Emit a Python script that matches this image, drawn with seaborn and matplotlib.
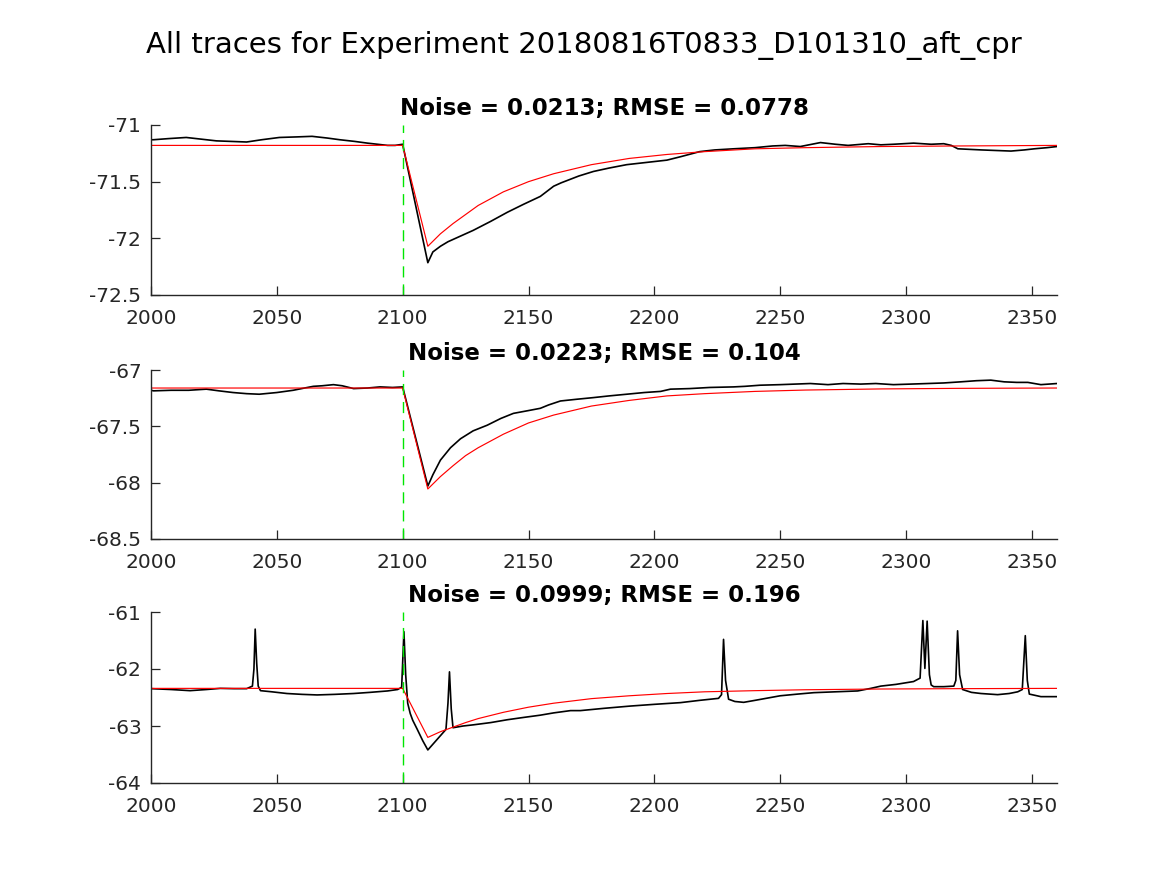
import matplotlib
matplotlib.use("Agg")
import matplotlib.pyplot as plt
import seaborn as sns
import pandas as pd

# ---------------- data ----------------
main_title = "All traces for Experiment 20180816T0833_D101310_aft_cpr"
panel_titles = ["Noise = 0.0213; RMSE = 0.0778",
                "Noise = 0.0223; RMSE = 0.104",
                "Noise = 0.0999; RMSE = 0.196"]
stim_time = 2100
x_limits = [2000, 2360]
x_ticks = [2000, 2050, 2100, 2150, 2200, 2250, 2300, 2350]
y_limits = [[-72.5, -71.0], [-68.5, -67.0], [-64.0, -61.0]]
y_ticks = [[-72.5, -72.0, -71.5, -71.0],
           [-68.5, -68.0, -67.5, -67.0],
           [-64, -63, -62, -61]]
y_ticklabels = [["-72.5", "-72", "-71.5", "-71"],
                ["-68.5", "-68", "-67.5", "-67"],
                ["-64", "-63", "-62", "-61"]]

# panel 1 trace (black)
trace1_t = [2000, 2001, 2007, 2014, 2020, 2026, 2032, 2038, 2044, 2051, 2058, 2064,
            2070, 2075, 2081, 2086, 2090, 2094, 2097, 2100, 2110, 2112, 2115, 2118,
            2123, 2128, 2135, 2141.6, 2148, 2154.7, 2160, 2163, 2170, 2175.8, 2182,
            2189, 2197, 2205, 2210.4, 2218, 2224, 2231.5, 2240, 2247, 2252, 2258,
            2266, 2272, 2277, 2285, 2290, 2295, 2303, 2310, 2315, 2318, 2320.6, 2330,
            2341.7, 2347, 2351, 2356, 2360]
trace1_v = [-71.13, -71.13, -71.12, -71.11, -71.125, -71.14, -71.145, -71.15, -71.13,
            -71.11, -71.105, -71.10, -71.115, -71.13, -71.145, -71.16, -71.17, -71.18,
            -71.18, -71.17, -72.215, -72.12, -72.07, -72.03, -71.98, -71.93, -71.85,
            -71.77, -71.70, -71.63, -71.54, -71.51, -71.45, -71.41, -71.38, -71.35,
            -71.33, -71.31, -71.28, -71.235, -71.22, -71.21, -71.20, -71.185, -71.18,
            -71.19, -71.155, -71.17, -71.18, -71.165, -71.175, -71.17, -71.16, -71.17,
            -71.165, -71.18, -71.21, -71.22, -71.23, -71.22, -71.21, -71.20, -71.19]
# panel 1 fit (red)
fit1_t = [2000, 2100, 2110, 2115, 2120, 2125, 2130, 2140, 2150, 2160, 2175, 2190,
          2205, 2220, 2240, 2260, 2290, 2320, 2360]
fit1_v = [-71.18, -71.18, -72.07, -71.96, -71.87, -71.79, -71.71, -71.59, -71.50,
          -71.43, -71.35, -71.295, -71.26, -71.235, -71.21, -71.20, -71.19, -71.185,
          -71.18]

# panel 2 trace (black)
trace2_t = [2000, 2001, 2008, 2015, 2022, 2027, 2032.6, 2038, 2043, 2050, 2056.5,
            2061, 2064.5, 2068, 2072.5, 2076, 2080.5, 2086, 2091, 2096, 2100, 2110,
            2112, 2115, 2119, 2123, 2128, 2133.6, 2139, 2144, 2150, 2154.7, 2158,
            2162.7, 2169, 2175.8, 2182, 2189, 2196, 2202.5, 2206.4, 2214, 2222,
            2231.5, 2236, 2242, 2250, 2256, 2262, 2269, 2275, 2282, 2288, 2295,
            2302, 2308.6, 2315, 2321.8, 2328, 2333.7, 2339, 2344, 2348.4, 2353.6, 2360]
trace2_v = [-67.18, -67.185, -67.18, -67.18, -67.17, -67.185, -67.20, -67.21, -67.215,
            -67.20, -67.18, -67.16, -67.145, -67.14, -67.13, -67.14, -67.165, -67.16,
            -67.15, -67.155, -67.15, -68.03, -67.93, -67.80, -67.69, -67.61, -67.54,
            -67.49, -67.43, -67.385, -67.36, -67.34, -67.31, -67.275, -67.26, -67.245,
            -67.23, -67.215, -67.20, -67.19, -67.17, -67.165, -67.155, -67.15, -67.145,
            -67.135, -67.13, -67.125, -67.12, -67.13, -67.12, -67.125, -67.12, -67.13,
            -67.125, -67.12, -67.115, -67.105, -67.095, -67.09, -67.105, -67.11,
            -67.11, -67.13, -67.12]
# panel 2 fit (red)
fit2_t = [2000, 2100, 2110, 2115, 2120, 2125, 2130, 2140, 2150, 2160, 2175, 2190,
          2205, 2220, 2240, 2260, 2290, 2320, 2360]
fit2_v = [-67.16, -67.16, -68.056, -67.946, -67.85, -67.76, -67.69, -67.57, -67.47,
          -67.40, -67.32, -67.27, -67.23, -67.21, -67.19, -67.178, -67.168, -67.163,
          -67.16]

# panel 3 trace (black, with spikes)
trace3_t = [2000, 2008, 2015.5, 2022, 2027.5, 2033, 2038, 2040.3, 2040.9, 2041.4,
            2042.0, 2042.6, 2043.5, 2048, 2054, 2060, 2066, 2073, 2080.5, 2087, 2094,
            2098, 2099.6, 2100.5, 2101.2, 2102, 2103, 2104, 2105.7, 2108, 2110, 2112,
            2115, 2117.2, 2118.0, 2118.6, 2119.3, 2120, 2124, 2128, 2135, 2141.6, 2148,
            2154.7, 2160, 2166.7, 2170.6, 2180, 2190.5, 2200, 2210.4, 2218, 2225.5,
            2226.7, 2227.5, 2228.3, 2229.5, 2232, 2235.5, 2240, 2245, 2250, 2257,
            2263.4, 2272, 2280.8, 2286, 2290, 2296, 2303, 2305.6, 2306.7, 2307.5,
            2308.4, 2309.3, 2310, 2311, 2315, 2319, 2319.8, 2320.5, 2321.3, 2322.5,
            2326, 2329.8, 2336.4, 2341, 2344.4, 2346.2, 2347.4, 2348.2, 2349, 2353.6,
            2360]
trace3_v = [-62.345, -62.36, -62.38, -62.36, -62.34, -62.345, -62.345, -62.30, -62.0,
            -61.30, -61.9, -62.30, -62.38, -62.40, -62.43, -62.445, -62.455, -62.445,
            -62.43, -62.41, -62.385, -62.36, -62.32, -61.345, -62.1, -62.60, -62.78,
            -62.90, -63.05, -63.26, -63.42, -63.32, -63.17, -63.06, -62.6, -62.05,
            -62.7, -63.03, -63.00, -62.98, -62.94, -62.89, -62.85, -62.81, -62.77,
            -62.73, -62.73, -62.69, -62.65, -62.62, -62.59, -62.55, -62.515, -62.45,
            -61.48, -62.2, -62.53, -62.57, -62.585, -62.55, -62.51, -62.47, -62.44,
            -62.415, -62.40, -62.385, -62.34, -62.30, -62.27, -62.22, -62.16, -61.15,
            -61.99, -61.16, -62.1, -62.28, -62.31, -62.31, -62.30, -62.2, -61.33,
            -62.1, -62.36, -62.41, -62.43, -62.45, -62.43, -62.40, -62.36, -61.415,
            -62.2, -62.44, -62.485, -62.485]
# panel 3 fit (red)
fit3_t = [2000, 2100, 2110, 2115, 2120, 2125, 2130, 2140, 2150, 2160, 2175, 2190,
          2205, 2220, 2240, 2260, 2290, 2320, 2360]
fit3_v = [-62.34, -62.34, -63.20, -63.10, -63.02, -62.94, -62.87, -62.76, -62.67,
          -62.60, -62.52, -62.47, -62.43, -62.40, -62.38, -62.364, -62.351, -62.345,
          -62.34]

traces = [(trace1_t, trace1_v), (trace2_t, trace2_v), (trace3_t, trace3_v)]
fits = [(fit1_t, fit1_v), (fit2_t, fit2_v), (fit3_t, fit3_v)]

# ---------------- styling ----------------
sns.set_style("ticks")
plt.rcParams["font.family"] = ["DejaVu Sans"]
plt.rcParams["axes.unicode_minus"] = False

W, H = 1167, 875
fig = plt.figure(figsize=(W / 100, H / 100), dpi=100)
fig.patch.set_facecolor("white")

ax_left, ax_right = 151, 1057
ax_rows = [(125, 295), (370, 539), (612, 783)]
axis_col = "#262626"

for i, (top, bot) in enumerate(ax_rows):
    ax = fig.add_axes([ax_left / W, 1 - bot / H, (ax_right - ax_left) / W, (bot - top) / H])
    ax.set_facecolor("white")
    tt, tv = traces[i]
    ft, fv = fits[i]
    df_tr = pd.DataFrame({"t": tt, "v": tv})
    df_fit = pd.DataFrame({"t": ft, "v": fv})
    sns.lineplot(data=df_tr, x="t", y="v", ax=ax, color="black", linewidth=1.2,
                 estimator=None, sort=False)
    sns.lineplot(data=df_fit, x="t", y="v", ax=ax, color="#ff0000", linewidth=0.85,
                 estimator=None, sort=False)
    ax.axvline(stim_time, color="#00e600", linewidth=1.0, linestyle=(0, (8, 5)))
    ax.set_xlim(*x_limits)
    ax.set_ylim(*y_limits[i])
    ax.set_xticks(x_ticks)
    ax.set_xticklabels([str(v) for v in x_ticks])
    ax.set_yticks(y_ticks[i])
    ax.set_yticklabels(y_ticklabels[i])
    ax.set_xlabel("")
    ax.set_ylabel("")
    for side in ("top", "right"):
        ax.spines[side].set_visible(False)
    for side in ("left", "bottom"):
        ax.spines[side].set_color(axis_col)
        ax.spines[side].set_linewidth(1.0)
    ax.tick_params(axis="both", direction="in", length=6.5, width=0.9,
                   colors=axis_col, labelsize=14.5)
    ax.tick_params(axis="x", pad=10)
    ax.tick_params(axis="y", pad=7)
    ax.set_title(panel_titles[i], fontsize=16.5, fontweight="bold", color="black", pad=7)

fig.text(0.5, 1 - 53.5 / H, main_title, ha="center", va="baseline",
         fontsize=21, color="black")

fig.savefig("out.png", dpi=100, facecolor="white")
